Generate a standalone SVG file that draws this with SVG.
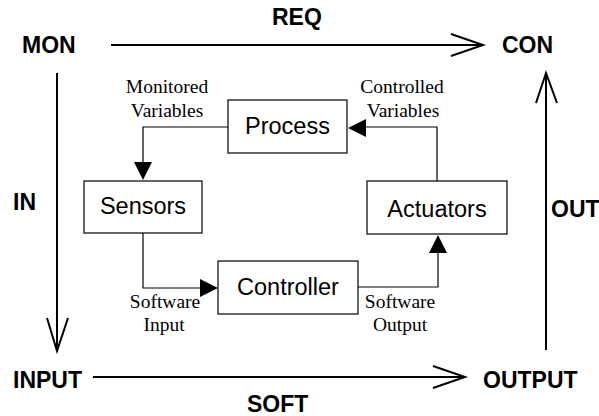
<svg xmlns="http://www.w3.org/2000/svg" width="599" height="416" viewBox="0 0 599 416">
<style>
.big{font-family:"Liberation Sans",Arial,sans-serif;font-weight:bold;font-size:23px;fill:#000}
.box rect{fill:#fff;stroke:#000;stroke-width:1.2}
.box text{font-family:"Liberation Sans",Arial,sans-serif;font-size:23.5px;fill:#000;text-anchor:middle}
.lbl{font-family:"Liberation Serif","Times New Roman",serif;font-size:19.5px;fill:#000;text-anchor:middle}
.main{fill:none;stroke:#000;stroke-width:2}
.conn{fill:none;stroke:#000;stroke-width:1.2}
.head{fill:#000;stroke:none}
</style>
<rect width="599" height="416" fill="#fff"/>
<g id="labels">
<text class="big" x="22" y="53">MON</text>
<text class="big" x="502" y="53">CON</text>
<text class="big" x="13" y="388">INPUT</text>
<text class="big" x="483" y="388">OUTPUT</text>
<text class="big" x="272" y="25">REQ</text>
<text class="big" x="247" y="412">SOFT</text>
<text class="big" x="13" y="210">IN</text>
<text class="big" x="551" y="217">OUT</text>
<text class="lbl" x="167" y="93">Monitored</text>
<text class="lbl" x="167" y="117">Variables</text>
<text class="lbl" x="402" y="93">Controlled</text>
<text class="lbl" x="403" y="117">Variables</text>
<text class="lbl" x="165" y="308">Software</text>
<text class="lbl" x="164" y="331">Input</text>
<text class="lbl" x="400" y="308">Software</text>
<text class="lbl" x="400" y="331">Output</text>
</g>
<g id="connectors">
<path class="main" d="M111 45H483M451 34L483 45L451 56"/>
<path class="main" d="M93 377H465M433 366L465 377L433 388"/>
<path class="main" d="M57 73V351M47 318L57 351L68 318"/>
<path class="main" d="M546 350V73M536 103L546 73L557 103"/>
<path class="conn" d="M228 127H143V163"/>
<polygon class="head" points="134,162 152,162 143,180"/>
<path class="conn" d="M143 233V288H200"/>
<polygon class="head" points="200,279 200,297 218,288"/>
<path class="conn" d="M358 287H438V253"/>
<polygon class="head" points="429,253 447,253 438,235"/>
<path class="conn" d="M437 181V127H366"/>
<polygon class="head" points="366,119 366,137 348,128"/>
</g>
<g id="process" class="box"><rect x="228" y="100" width="119" height="53"/><text x="287.5" y="134">Process</text></g>
<g id="sensors" class="box"><rect x="84" y="181" width="118" height="52"/><text x="143" y="214">Sensors</text></g>
<g id="actuators" class="box"><rect x="367" y="181" width="140" height="53"/><text x="437" y="217">Actuators</text></g>
<g id="controller" class="box"><rect x="218" y="261" width="140" height="53"/><text x="288" y="295">Controller</text></g>
</svg>
